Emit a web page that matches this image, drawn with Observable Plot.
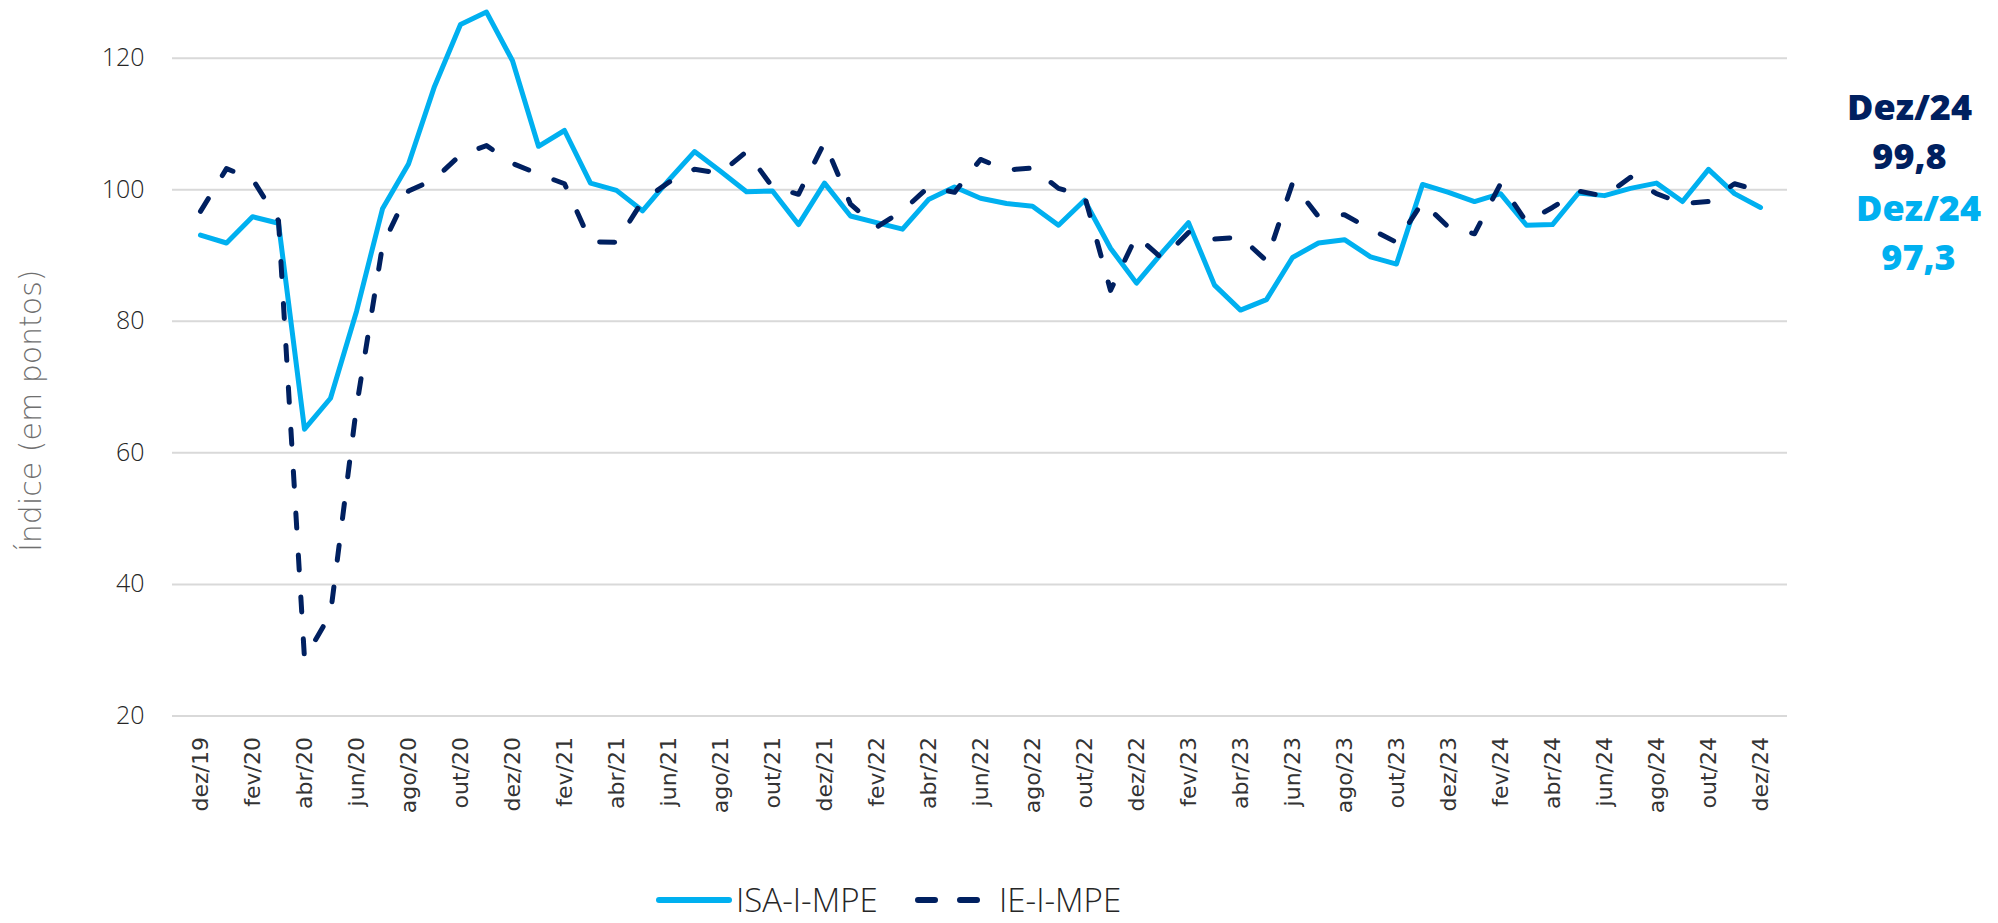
<!DOCTYPE html>
<html><head><meta charset="utf-8">
<script src="https://cdn.jsdelivr.net/npm/d3@7"></script>
<script src="https://cdn.jsdelivr.net/npm/@observablehq/plot@0.6"></script>
<style>
body{margin:0;background:#fff;}
#wrap{position:relative;width:1998px;height:923px;overflow:hidden;}
#chart{position:absolute;left:0;top:0;}
#legend{position:absolute;left:0;top:0;width:1998px;height:923px;pointer-events:none;font-family:'Open Sans',sans-serif;font-weight:300;font-size:33px;color:#262626;}
#legend .item{position:absolute;top:877px;height:45px;line-height:45px;display:flex;align-items:center;white-space:nowrap;}
#legend svg{display:block;}
</style></head>
<body><div id="wrap"><div id="chart"></div><div id="legend"></div></div>
<script>
const months = ["dez/19",
 "jan/20","fev/20","mar/20","abr/20","mai/20","jun/20","jul/20","ago/20","set/20","out/20","nov/20","dez/20",
 "jan/21","fev/21","mar/21","abr/21","mai/21","jun/21","jul/21","ago/21","set/21","out/21","nov/21","dez/21",
 "jan/22","fev/22","mar/22","abr/22","mai/22","jun/22","jul/22","ago/22","set/22","out/22","nov/22","dez/22",
 "jan/23","fev/23","mar/23","abr/23","mai/23","jun/23","jul/23","ago/23","set/23","out/23","nov/23","dez/23",
 "jan/24","fev/24","mar/24","abr/24","mai/24","jun/24","jul/24","ago/24","set/24","out/24","nov/24","dez/24"];

const isa = [93.1,
 91.9,95.9,94.9,63.6,68.3,81.5,97.1,103.9,115.7,125.1,127.0,119.6,
 106.6,109.0,101.0,99.9,96.8,101.4,105.8,102.8,99.7,99.8,94.7,101.0,
 96.0,95.0,94.0,98.5,100.4,98.7,97.9,97.5,94.6,98.4,91.1,85.8,
 90.5,95.0,85.5,81.7,83.3,89.7,91.9,92.4,89.8,88.7,100.8,99.6,
 98.2,99.4,94.6,94.7,99.5,99.1,100.2,101.0,98.2,103.1,99.4,97.3];

const ie = [96.7,
 103.2,101.6,95.3,28.7,35.5,67.0,91.5,99.8,101.6,105.3,106.7,104.0,
 102.4,100.9,92.1,92.0,98.3,101.1,103.1,102.5,105.8,100.4,99.3,107.2,
 97.8,94.3,96.8,100.4,99.6,104.6,103.0,103.3,100.2,99.1,84.7,93.0,
 89.5,93.5,92.5,92.8,89.2,101.0,95.9,96.2,94.0,92.0,98.1,94.3,
 93.3,100.9,95.1,97.3,99.8,99.0,101.9,99.4,97.9,98.2,100.9,99.8];

const yTicks = [20, 40, 60, 80, 100, 120];
const tickMonths = months.filter((m, i) => i % 2 === 0);
const seriesNames = ["ISA-I-MPE", "IE-I-MPE"];
const seriesColors = ["#00B0F0", "#002060"];
const yTitle = "Índice (em pontos)";

const isaRows = months.map((m, i) => ({month: m, value: isa[i], series: seriesNames[0]}));
const ieRows = months.map((m, i) => ({month: m, value: ie[i], series: seriesNames[1]}));
const last = months.length - 1;
const fmt = v => v.toFixed(1).replace(".", ",");
const cap = s => s[0].toUpperCase() + s.slice(1);
const lastIE = [ieRows[last]];
const lastISA = [isaRows[last]];

const annoStyle = {textAnchor: "middle", lineAnchor: "top", fontSize: 36, fontWeight: 800, fontFamily: "'Open Sans', sans-serif"};

const chart = Plot.plot({
  width: 1998,
  height: 868,
  marginLeft: 172,
  marginRight: 211,
  marginTop: 5,
  marginBottom: 152.5,
  x: {type: "point", domain: months, padding: 0.5, label: null},
  y: {domain: [20, 128], label: null},
  style: {background: "transparent", overflow: "visible"},
  marks: [
    Plot.ruleY(yTicks, {stroke: "#d9d9d9", strokeWidth: 2}),
    Plot.axisY(yTicks, {tickSize: 0, tickPadding: 28, fontSize: 25, fontFamily: "'Open Sans', sans-serif", fontWeight: 300, fill: "#262626", label: null}),
    Plot.axisX(tickMonths, {tickRotate: -90, tickSize: 0, tickPadding: 21, fontSize: 22, fontFamily: "'DejaVu Sans', sans-serif", fill: "#333333", label: null}),
    Plot.text([yTitle], {text: d => d, frameAnchor: "left", rotate: -90, dx: -141, dy: 50, textAnchor: "middle", fontSize: 30, fontWeight: 200, fontFamily: "'DejaVu Sans', sans-serif", fill: "#6f6f6f"}),
    Plot.line(isaRows, {x: "month", y: "value", stroke: seriesColors[0], strokeWidth: 5, strokeLinejoin: "round", strokeLinecap: "round"}),
    Plot.line(ieRows, {x: "month", y: "value", stroke: seriesColors[1], strokeWidth: 5, strokeDasharray: "15,27", strokeLinecap: "round", strokeLinejoin: "round"}),
    // end-of-series annotations: month line and value line as separate texts
    Plot.text(lastIE, {x: "month", y: "value", text: d => cap(d.month), dx: 149, dy: -97, fill: seriesColors[1], ...annoStyle}),
    Plot.text(lastIE, {x: "month", y: "value", text: d => fmt(d.value), dx: 149, dy: -48, fill: seriesColors[1], ...annoStyle}),
    Plot.text(lastISA, {x: "month", y: "value", text: d => cap(d.month), dx: 158, dy: -12.5, fill: seriesColors[0], ...annoStyle}),
    Plot.text(lastISA, {x: "month", y: "value", text: d => fmt(d.value), dx: 158, dy: 36.5, fill: seriesColors[0], ...annoStyle})
  ]
});
document.getElementById("chart").appendChild(chart);

// legend
const legend = document.getElementById("legend");
const legendLeft = [656, 915];
seriesNames.forEach((name, i) => {
  const item = document.createElement("div");
  item.className = "item";
  item.style.left = legendLeft[i] + "px";
  const dash = i === 1 ? 'stroke-dasharray="17,25"' : "";
  const w = i === 0 ? 76 : 80;
  item.innerHTML = `<svg width="${w}" height="12"><line x1="3" x2="${w - 3}" y1="6" y2="6" stroke="${seriesColors[i]}" stroke-width="6" stroke-linecap="round" ${dash}/></svg><span style="margin-left:4px">${name}</span>`;
  legend.appendChild(item);
});
</script>
</body></html>
